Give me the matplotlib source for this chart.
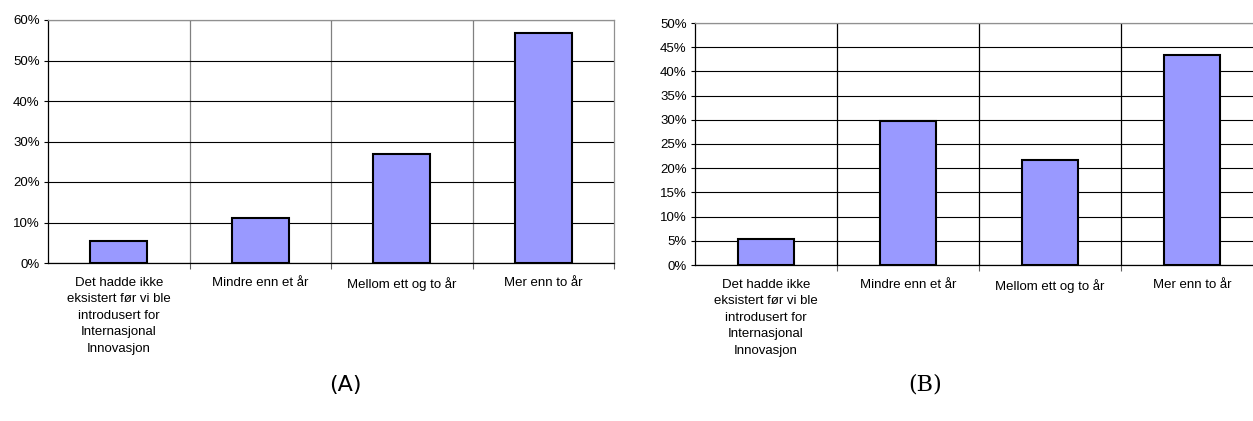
import matplotlib
matplotlib.use("Agg")
import matplotlib.pyplot as plt
from matplotlib.ticker import FuncFormatter, MultipleLocator, FixedLocator

# Kategorier (samme for begge diagram)
categories = [
    "Det hadde ikke\neksistert før vi ble\nintrodusert for\nInternasjonal\nInnovasjon",
    "Mindre enn et år",
    "Mellom ett og to år",
    "Mer enn to år",
]
values_a = [5.5, 11.0, 27.0, 56.8]
values_b = [5.4, 29.8, 21.6, 43.3]

BAR_COLOR = "#9999FF"
FONT = ["Liberation Sans", "DejaVu Sans"]

fig = plt.figure(figsize=(12.53, 4.21), dpi=100)
fig.patch.set_facecolor("white")


def panel(rect, vals, ymax, ystep, vgrid_color, caption, cap_x, cap_family):
    ax = fig.add_axes(rect)
    x = range(len(vals))
    ax.bar(x, vals, width=0.4, color=BAR_COLOR, edgecolor="black",
           linewidth=1.5, zorder=3)
    ax.set_xlim(-0.5, len(vals) - 0.5)
    ax.set_ylim(0, ymax)

    # y-akse
    ax.yaxis.set_major_locator(MultipleLocator(ystep))
    ax.yaxis.set_major_formatter(FuncFormatter(lambda v, p: f"{v:.0f}%"))
    ax.tick_params(axis="y", direction="out", length=3, width=0.8,
                   pad=3, labelsize=9.5)
    ax.grid(True, axis="y", color="black", linewidth=0.8, zorder=1)

    # x-akse: etiketter i midten, streker mellom kategoriene
    ax.set_xticks(list(x))
    ax.set_xticklabels(categories, fontsize=9.5, va="top", linespacing=1.5)
    ax.tick_params(axis="x", which="major", length=0, pad=10)
    ax.xaxis.set_minor_locator(FixedLocator([i + 0.5 for i in range(len(vals))]))
    ax.tick_params(axis="x", which="minor", direction="out", length=4,
                   width=0.8, color="#606060")
    for i in range(len(vals) - 1):
        ax.axvline(i + 0.5, color=vgrid_color, linewidth=0.9, zorder=1)

    for lbl in ax.get_xticklabels() + ax.get_yticklabels():
        lbl.set_family(FONT)

    ax.spines["left"].set_color("black")
    ax.spines["bottom"].set_color("black")
    ax.spines["top"].set_color("#909090")
    ax.spines["right"].set_color("#909090")
    for s in ax.spines.values():
        s.set_linewidth(0.9)
        s.set_zorder(4)

    fig.text(cap_x, 1 - 385 / 421, caption, ha="center", va="center",
             fontsize=16, family=cap_family)
    return ax


panel([48 / 1253, (421 - 263) / 421, 566 / 1253, 243 / 421],
      values_a, 60, 10, "#808080", "(A)", 345 / 1253, "DejaVu Sans")
panel([695 / 1253, (421 - 265) / 421, 568 / 1253, 242 / 421],
      values_b, 50, 5, "black", "(B)", 925 / 1253, "DejaVu Serif")

plt.savefig("out.png", dpi=100, facecolor="white")
